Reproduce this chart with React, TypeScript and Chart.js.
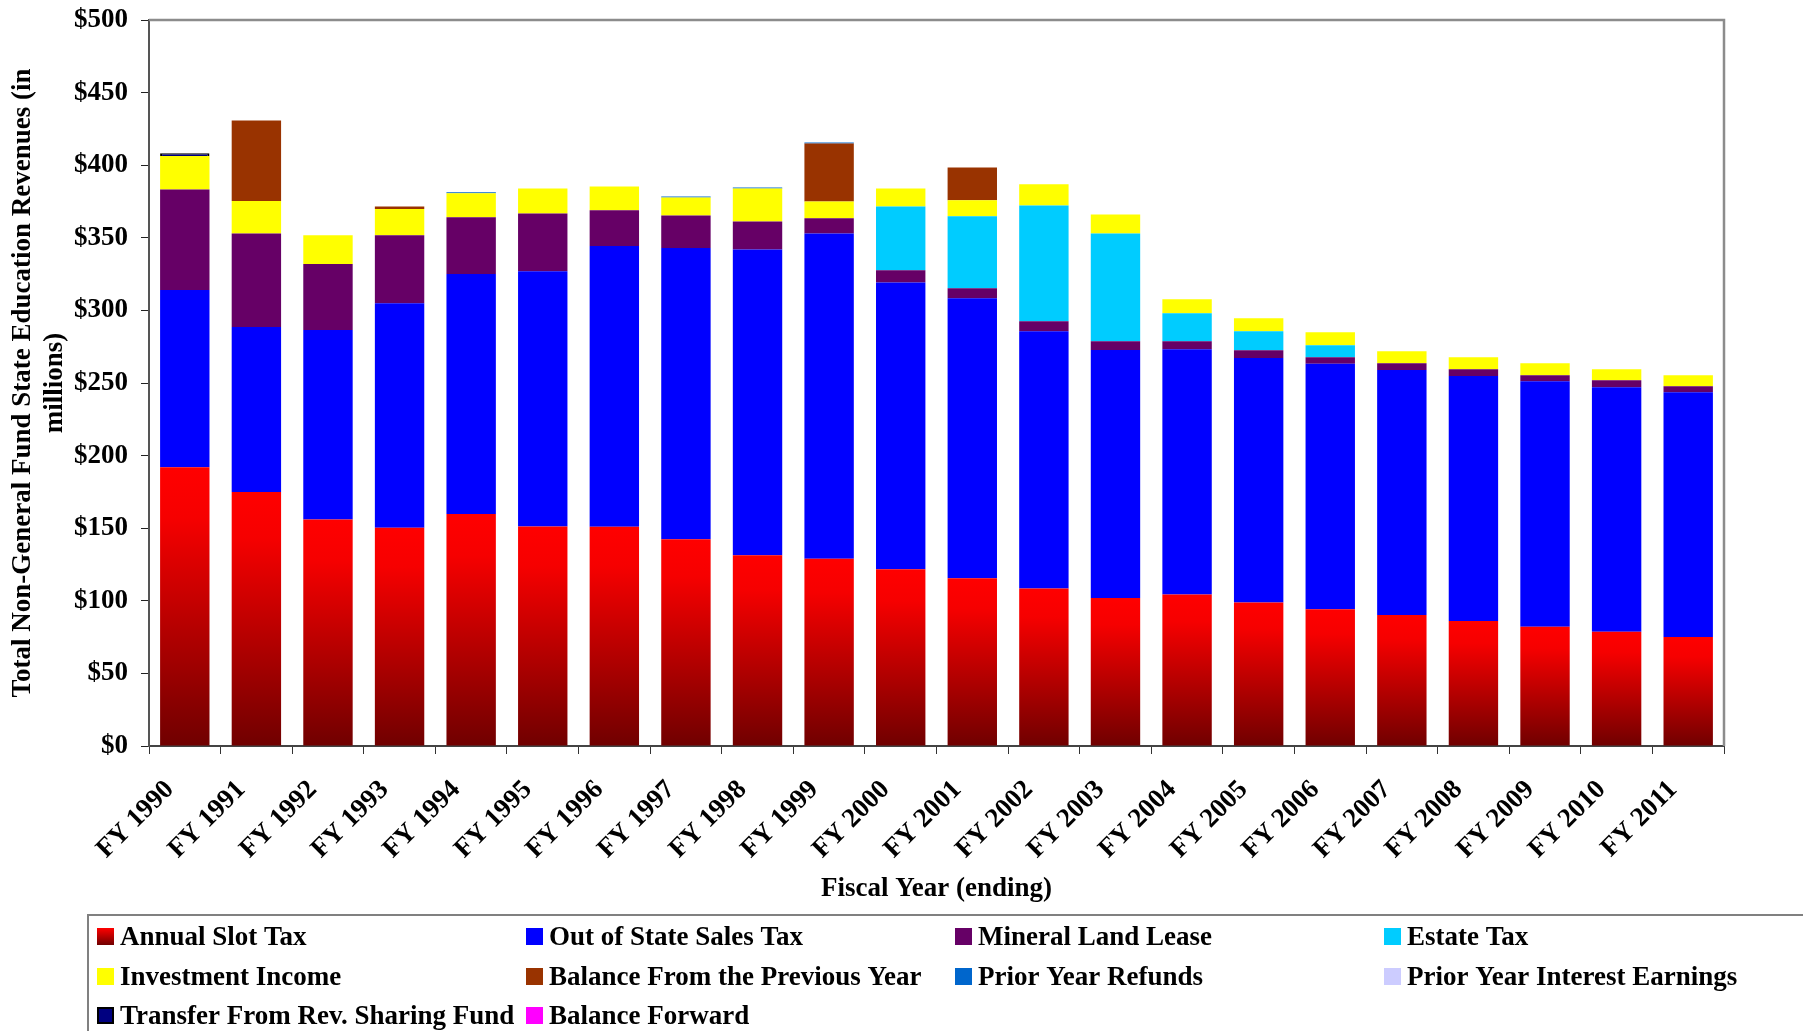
import React, { useEffect, useRef } from 'react';
import { Chart, registerables } from 'chart.js';

Chart.register(...registerables);

const years = ['FY 1990', 'FY 1991', 'FY 1992', 'FY 1993', 'FY 1994', 'FY 1995', 'FY 1996', 'FY 1997', 'FY 1998', 'FY 1999', 'FY 2000', 'FY 2001', 'FY 2002', 'FY 2003', 'FY 2004', 'FY 2005', 'FY 2006', 'FY 2007', 'FY 2008', 'FY 2009', 'FY 2010', 'FY 2011'];

const annualSlotTax = [192, 175, 156, 150.3, 159.8, 151.1, 151, 142.4, 131.3, 129, 121.8, 115.5, 108.4, 102, 104.4, 98.9, 94.2, 90.2, 86.1, 82.1, 78.7, 75];
const outOfStateSalesTax = [122, 113.5, 130.5, 154.6, 165.2, 175.8, 193.3, 200.6, 210.7, 224, 197.5, 192.8, 177.2, 170.8, 168.8, 168.4, 169, 168.8, 168.8, 169.1, 168.4, 168.6];
const mineralLandLease = [69.3, 64.5, 45.4, 46.8, 39.1, 39.9, 24.6, 22.4, 19.3, 10.4, 8.3, 6.9, 6.9, 5.9, 5.5, 5.2, 4.5, 4.6, 4.6, 4.1, 4.8, 4.2];
const estateTax = [0, 0, 0, 0, 0, 0, 0, 0, 0, 0, 44, 49.6, 79.8, 74.3, 19.3, 13.1, 8.3, 0, 0, 0, 0, 0];
const investmentIncome = [23, 22.3, 19.8, 18.1, 16.5, 17.2, 16.5, 12.4, 22.7, 11.6, 12.4, 11, 14.5, 13.1, 9.6, 9, 8.9, 8.3, 8.2, 8.3, 7.6, 7.5];
const balancePreviousYear = [0, 55.5, 0, 1.8, 0, 0, 0, 0, 0, 40, 0, 22.7, 0, 0, 0, 0, 0, 0, 0, 0, 0, 0];
const priorYearRefunds = [0, 0, 0, 0, 0.7, 0, 0, 0.7, 0.7, 0.7, 0, 0, 0, 0, 0, 0, 0, 0, 0, 0, 0, 0];
const priorYearInterest = [0, 0, 0, 0, 0, 0, 0, 0, 0, 0, 0, 0, 0, 0, 0, 0, 0, 0, 0, 0, 0, 0];
const transferRevSharing = [2, 0, 0, 0, 0, 0, 0, 0, 0, 0, 0, 0, 0, 0, 0, 0, 0, 0, 0, 0, 0, 0];
const balanceForward = [0, 0, 0, 0, 0, 0, 0, 0, 0, 0, 0, 0, 0, 0, 0, 0, 0, 0, 0, 0, 0, 0];

const yTicks = [0, 50, 100, 150, 200, 250, 300, 350, 400, 450, 500];

const FONT = "'Liberation Serif', 'Times New Roman', serif";
const FS = 27;

const legendCols = [97, 526, 955, 1384];
const legendRows = [928, 968, 1007];

export default function App() {
  const ref = useRef<HTMLCanvasElement>(null);

  useEffect(() => {
    const canvas = ref.current;
    if (!canvas) return;

    const slotFill = (c: any) => {
      const chart = c.chart;
      if (!chart.chartArea || !chart.scales || !chart.scales.y) return '#cc0000';
      const ys = chart.scales.y;
      const v = typeof c.raw === 'number' ? c.raw : 0;
      const top = ys.getPixelForValue(v);
      const bottom = ys.getPixelForValue(0);
      if (!isFinite(top) || !isFinite(bottom) || bottom - top < 1) return '#cc0000';
      const g = chart.ctx.createLinearGradient(0, top, 0, bottom);
      g.addColorStop(0, '#ff0000');
      g.addColorStop(0.18, '#f60000');
      g.addColorStop(1, '#700000');
      return g;
    };

    const framePlugin = {
      id: 'frameLegend',
      afterDraw(chart: any) {
        const { ctx, chartArea: a } = chart;
        ctx.save();
        ctx.strokeStyle = '#8c8c8c';
        ctx.lineWidth = 2.5;
        ctx.beginPath();
        ctx.moveTo(a.left, a.top);
        ctx.lineTo(a.right, a.top);
        ctx.lineTo(a.right, a.bottom);
        ctx.stroke();

        // legend box
        ctx.strokeStyle = '#808080';
        ctx.lineWidth = 2;
        ctx.beginPath();
        ctx.moveTo(88, 1045);
        ctx.lineTo(88, 915);
        ctx.lineTo(1810, 915);
        ctx.stroke();

        ctx.font = `bold ${FS}px ${FONT}`;
        ctx.textBaseline = 'alphabetic';
        ctx.textAlign = 'left';
        chart.data.datasets.forEach((ds: any, i: number) => {
          const col = i % 4;
          const row = Math.floor(i / 4);
          const x = legendCols[col];
          const y = legendRows[row];
          const s = 17;
          if (i === 0) {
            const g = ctx.createLinearGradient(0, y, 0, y + s);
            g.addColorStop(0, '#ff0000');
            g.addColorStop(1, '#700000');
            ctx.fillStyle = g;
          } else {
            ctx.fillStyle = ds.legendColor;
          }
          ctx.fillRect(x, y, s, s);
          if (ds.legendBorder) {
            ctx.strokeStyle = ds.legendBorder;
            ctx.lineWidth = 2;
            ctx.strokeRect(x + 1, y + 1, s - 2, s - 2);
          }
          ctx.fillStyle = '#000';
          ctx.fillText(ds.label, x + 23, y + 17);
        });
        ctx.restore();
      },
    };

    const mk = (label: string, data: number[], color: any, legendColor: string, extra: any = {}) => ({
      label,
      data,
      backgroundColor: color,
      legendColor,
      borderWidth: 0,
      barPercentage: 0.69,
      categoryPercentage: 1,
      ...extra,
    });

    const chart = new Chart(canvas, {
      type: 'bar',
      data: {
        labels: years,
        datasets: [
          mk('Annual Slot Tax', annualSlotTax, slotFill, '#cc0000'),
          mk('Out of State Sales Tax', outOfStateSalesTax, '#0000ff', '#0000ff'),
          mk('Mineral Land Lease', mineralLandLease, '#660066', '#660066'),
          mk('Estate Tax', estateTax, '#00ccff', '#00ccff'),
          mk('Investment Income', investmentIncome, '#ffff00', '#ffff00'),
          mk('Balance From the Previous Year', balancePreviousYear, '#993300', '#993300'),
          mk('Prior Year Refunds', priorYearRefunds, '#0066cc', '#0066cc'),
          mk('Prior Year Interest Earnings', priorYearInterest, '#ccccff', '#ccccff'),
          mk('Transfer From Rev. Sharing Fund', transferRevSharing, '#000080', '#000080', { borderColor: '#000000', borderWidth: 2, legendBorder: '#000000' }),
          mk('Balance Forward', balanceForward, '#ff00ff', '#ff00ff'),
        ] as any,
      },
      options: {
        responsive: false,
        animation: false,
        devicePixelRatio: 1,
        layout: { padding: { left: 8, top: 20, right: 79, bottom: 126 } },
        plugins: {
          legend: { display: false },
          tooltip: { enabled: false },
        },
        scales: {
          x: {
            stacked: true,
            afterFit: (s: any) => { s.height = 159; s.paddingLeft = 0; s.paddingRight = 0; },
            grid: { display: true, drawOnChartArea: false, drawTicks: true, tickLength: 8, color: '#333', offset: true },
            border: { display: true, color: '#444', width: 2 },
            ticks: {
              autoSkip: false,
              maxRotation: 45,
              minRotation: 45,
              padding: 20,
              labelOffset: -15,
              color: '#000',
              font: { family: FONT, size: FS, weight: 'bold' },
            },
            title: {
              display: true,
              text: 'Fiscal Year (ending)',
              color: '#000',
              padding: 0,
              font: { family: FONT, size: FS, weight: 'bold' },
            },
          },
          y: {
            stacked: true,
            min: 0,
            max: 500,
            afterFit: (s: any) => { s.width = 141; s.paddingTop = 0; s.paddingBottom = 0; },
            afterBuildTicks: (s: any) => { s.ticks = yTicks.map((v) => ({ value: v })); },
            grid: { display: true, drawOnChartArea: false, drawTicks: true, tickLength: 8, color: '#222' },
            border: { display: true, color: '#555', width: 2 },
            ticks: {
              padding: 13,
              color: '#000',
              font: { family: FONT, size: FS, weight: 'bold' },
              callback: (v: any) => '$' + v,
            },
            title: {
              display: true,
              text: ['Total Non-General Fund State Education Revenues (in', 'millions)'],
              color: '#000',
              padding: 0,
              font: { family: FONT, size: FS, weight: 'bold', lineHeight: 1.15 },
            },
          },
        },
      } as any,
      plugins: [framePlugin],
    });

    return () => chart.destroy();
  }, []);

  return (
    <div style={{ position: 'absolute', left: 0, top: 0, width: 1803, height: 1031, background: '#fff' }}>
      <canvas ref={ref} width={1803} height={1031} style={{ display: 'block' }} />
    </div>
  );
}
